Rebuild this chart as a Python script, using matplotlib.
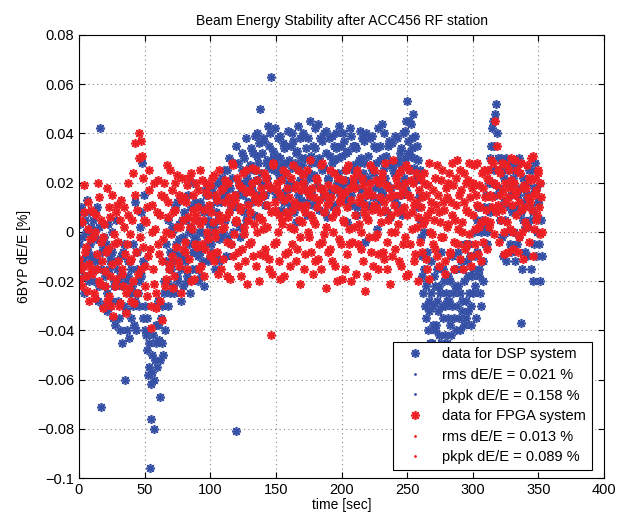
import numpy as np
import matplotlib
matplotlib.use('Agg')
import matplotlib.pyplot as plt
from matplotlib.ticker import FuncFormatter

plt.rcParams['font.family'] = ['Liberation Sans', 'DejaVu Sans']

# beam energy deviation, units of 1e-3 %
# *_a sampled on whole seconds, *_b half a second later
dsp_dE_a = [
    -5, 3, -12, 8, -18, 0, 13, -8, -20, 2,
    -10, 5, -15, -3, 10, -22, 42, -71, -6, -2,
    -18, -25, 3, -30, -12, -8, -35, -20, 5, -15,
    -28, -40, -10, -22, -5, -60, -32, -18, -43, -25,
    -15, -30, -38, 12, -8, -25, -20, 8, 28, -12,
    -30, -42, -48, -55, -96, -76, -57, -80, -52, -45,
    -38, -44, -67, -30, -50, -25, -12, -20, 5, -8,
    -15, 0, -22, 10, -5, -18, 3, -10, -28, -2,
    8, -12, -20, 15, -5, 2, -15, 20, -8, -3,
    5, -10, 12, -18, 0, 8, -5, 18, -12, 3,
    10, -8, 15, 2, -15, 20, 5, -3, 12, 22,
    0, 15, -10, 25, 8, 18, -5, 12, 28, 4,
    -81, 10, 20, -2, 25, 15, 30, 5, 22, 12,
    27, 34, 17, 7, 39, 21, 31, 14, 50, 24,
    19, 37, 11, 29, 43, 26, 63, 17, 33, 27,
    14, 31, 23, 39, 9, 27, 34, 16, 24, 41,
    29, 11, 26, 37, 19, 4, 33, 43, 21, 13,
    27, 39, 17, 34, 7, 24, 45, 31, 11, 23,
    34, 19, 44, 9, 27, 37, 14, 26, 41, 6,
    21, 31, 17, 39, 29, 11, 34, 24, 43, 19,
    31, 14, 37, 21, 4, 33, 26, 39, 11, 27,
    19, 34, 7, 29, 41, 17, 24, 37, -4, 21,
    31, 11, 27, 39, 14, 24, 34, 1, 21, 29,
    17, 44, 26, 9, 31, 19, 37, 6, 27, 14,
    24, 39, 11, 29, 19, 34, 7, 27, 41, 17,
    53, 37, 31, 44, 34, 26, 39, 21, 29, 14,
    5, -10, -25, -15, -35, -20, -40, -28, -12, -45,
    -30, -22, -38, -15, -42, -25, -8, -35, -20, -30,
    -45, -18, -28, -38, -10, -25, -35, -15, -30, -22,
    -40, -12, -28, -20, -5, -35, -18, -25, -10, -30,
    -15, 0, -22, -8, 10, -18, -30, 5, -12, 2,
    15, -5, 20, 8, 35, 42, 25, 48, 52, 30,
    18, 5, 25, -10, 12, 30, 0, 20, -5, 15,
    8, 22, -12, 10, 28, -2, 18, -37, 5, 12,
    -8, 20, 2, 15, -15, 25, 8, -5, 18, 0,
    12, -20, 5,
]

dsp_dE_b = [
    -15, 10, -2, -25, 5, -10, -18, 8, -5, -12,
    0, -20, 8, -12, -28, 2, -15, -8, -30, -22,
    -5, -32, -15, -10, -28, 0, -22, -38, -12, -20,
    -35, -18, -45, -8, -30, -20, -40, -12, -25, -35,
    -22, -5, -28, -40, -15, -30, 2, -18, -35, 15,
    -40, -35, -58, -45, -62, -50, -42, -60, -38, -55,
    -28, -52, -35, -45, -20, -40, -5, -30, -15, -25,
    2, -12, -25, -8, 12, -20, -3, -15, 5, -22,
    -10, 5, -18, 0, -25, 10, -8, -2, 12, -15,
    -20, 0, -8, 10, -12, -22, 15, -2, 5, -10,
    -5, 18, 0, -10, 8, 12, -12, 20, -2, 15,
    25, 5, 18, -2, 30, 10, 22, 0, 15, 35,
    15, 28, 2, 18, 32, 8, 20, 38, 12, 25,
    20, 12, 32, 25, 15, 40, 28, 36, 20, 32,
    38, 15, 28, 22, 35, 40, 18, 30, 25, 42,
    25, 38, 15, 30, 22, 36, 12, 35, 28, 20,
    18, 35, 40, 8, 28, 32, 15, 25, 38, 30,
    40, 20, 30, 12, 38, 22, 28, 15, 35, 42,
    12, 28, 30, 38, 18, 25, 40, 8, 32, 22,
    38, 15, 28, 10, 35, 40, 20, 30, 15, 35,
    18, 40, 25, 32, 12, 20, 42, 15, 35, 25,
    35, 10, 28, 22, 30, 38, 12, 28, 40, 15,
    22, 38, 10, 25, 35, 18, 28, 42, 12, 35,
    30, 15, 40, 22, 8, 35, 28, 18, 36, 25,
    12, 28, 38, 20, 32, 15, 40, 22, 30, 45,
    32, 45, 25, 38, 48, 30, 22, 35, 10, 25,
    -2, -18, 0, -30, -22, -8, -32, -45, -25, -38,
    -18, -40, -28, -32, -22, -45, -30, -15, -42, -25,
    -28, -35, -20, -42, -30, -15, -22, -40, -8, -35,
    -25, -32, -15, -38, -28, -12, -32, -5, -38, -18,
    -25, -10, -35, 5, -15, -25, 0, -20, 10, -5,
    0, 25, 10, 30, 20, 45, 35, 15, 40, 25,
    10, 30, -2, 22, 5, -12, 25, 10, 28, -8,
    20, 0, 25, -5, 15, 30, 8, -15, 22, 2,
    15, -10, 25, 5, 10, -20, 18, 28, -10, 12,
    -5, 20, -10,
]

fpga_dE_a = [
    -11, -19, 4, -14, 19, -6, -24, 1, -13, 9,
    -17, -2, -27, 7, -9, 14, -21, -4, -31, 3,
    -16, 18, -7, -26, 6, -13, -34, -1, -19, 11,
    -4, -29, 13, -17, 2, -9, -33, 7, -23, -1,
    -11, 24, -29, 36, 9, -17, 40, 37, 31, -6,
    -14, 4, -26, 17, -7, -39, 11, -21, 1, -31,
    21, -9, 7, -36, -3, 14, -19, 27, 6, -13,
    -1, 17, -23, 9, -6, 23, -14, 2, 13, -7,
    14, -4, 19, 6, -11, 24, 1, 9, -19, 7,
    -6, 17, 3, -14, 21, 9, -7, 16, -3, 11,
    19, -9, 4, 23, -2, 13, -17, 7, 17, 1,
    -11, 21, 6, -4, 14, -19, 11, 27, -1, 13,
    4, -14, 19, 9, -7, 24, -1, 16, -21, 11,
    17, -4, 26, 3, 13, -14, 21, 6, -9, 14,
    1, 24, -7, 11, 19, -11, -42, -17, 27, 9,
    -4, 17, 7, -19, 21, 3, 13, -9, 24, 6,
    14, -14, 9, 27, 1, 19, -7, 11, -21, 17,
    4, 23, -9, 11, 17, -2, 29, 7, -17, 14,
    3, 21, -11, 13, 27, -4, 17, -1, -23, 11,
    19, -7, 14, 6, 24, -14, 9, 17, -3, 13,
    -19, 21, 4, 16, -9, 27, 1, 13, -4, 19,
    7, -17, 24, 3, 14, -7, 19, 11, -24, 6,
    17, -2, 27, 9, -14, 11, 21, -1, -9, 14,
    4, 24, -11, 9, 19, -4, 14, -21, 7, 29,
    11, -7, 19, 3, 24, -14, 9, 17, -2, 27,
    7, -17, 14, 21, 1, 11, -9, 24, 6, 17,
    -4, 14, 3, 24, -11, 7, 19, -19, 9, -1,
    17, -7, 11, 27, -14, 4, 21, -2, 9, -17,
    14, 3, 24, -9, 7, 19, -4, 11, 29, 1,
    -11, 17, 4, 24, -7, 9, 21, -1, 14, -14,
    7, 27, 1, 11, -9, 19, 4, 24, -4, 14,
    9, -7, 21, 4, 29, 14, -1, 45, 19, 11,
    -4, 24, 9, 17, -9, 27, 4, 14, 1, 21,
    11, -7, 29, 7, 17, -2, 24, 9, -11, 19,
    4, 27, 14, -4, 21, 9, 31, 1, 17, 7,
    24, -1, 14,
]

fpga_dE_b = [
    5, -15, -22, 8, -8, -18, 12, -28, -3, -15,
    8, -25, 0, -15, 20, -20, 5, -12, -2, -22,
    -8, -28, 10, -18, -30, 15, -5, -22, 8, -12,
    -30, 5, -15, -22, 10, -25, -5, 20, -12, -28,
    5, -20, 15, -8, -25, 30, -2, -15, 22, 5,
    -22, 10, -10, 25, -30, 0, -15, 20, -25, 8,
    -5, -28, 15, -12, 20, -22, 0, 12, -15, 25,
    -10, 8, -18, 20, 2, -12, 15, -25, 22, 5,
    -8, 12, -15, 22, 2, -20, 15, 5, -5, 20,
    10, -15, 25, -5, 5, -18, 20, 0, 15, -10,
    8, 22, -12, 0, 15, -8, 25, 5, -15, 18,
    2, 12, -18, 20, 8, -5, 28, -10, 15, 5,
    22, -8, 10, -18, 18, 2, -12, 25, 5, -5,
    8, 20, -10, 15, 25, 0, 12, -20, 18, 5,
    15, -10, 22, 2, -15, 18, 8, 28, -5, 12,
    20, 0, -12, 15, 5, 25, -18, 8, 18, -8,
    2, 22, -5, 12, 18, -12, 25, 5, -2, 10,
    20, -15, 8, 25, 0, 15, -8, 18, 5, -12,
    22, 10, -5, 18, -15, 28, 8, 15, 2, -8,
    12, 25, -12, 0, 18, 8, -20, 22, 12, -5,
    15, 5, -15, 25, 10, -5, 18, -20, 22, 2,
    18, 25, -5, 12, 0, 22, -12, 8, 15, -18,
    5, 20, -8, 15, 25, -2, 10, -15, 20, 8,
    22, -8, 12, 28, -15, 5, 18, 0, -10, 15,
    0, 22, 8, -12, 15, 25, -5, 10, 20, -18,
    15, 25, -5, 8, 20, -12, 12, 2, -20, 22,
    10, -8, 20, 5, 15, -15, 28, 0, 12, -5,
    5, 22, -10, 15, 8, -2, 25, 12, -12, 18,
    2, 20, -8, 12, 28, -15, 5, 22, -5, 15,
    25, 0, -15, 12, 20, -5, 8, 28, -10, 18,
    20, -5, 15, 28, 2, 10, -12, 18, 25, 5,
    22, 25, 2, 15, 10, 28, 20, 8, 35, 25,
    15, 5, 28, 0, 20, 12, -8, 25, 18, 30,
    0, 20, 15, 25, -8, 12, 28, 0, 18, 10,
    18, 2, 22, 12, 30, -10, 15, 22, 5, 25,
    10, 20, 0,
]

dsp_label = ['data for DSP system', 'rms dE/E = 0.021 %', 'pkpk dE/E = 0.158 %']
fpga_label = ['data for FPGA system', 'rms dE/E = 0.013 %', 'pkpk dE/E = 0.089 %']

blue = '#3550a5'
red = '#ec2024'
star = (8, 2, 0)

fig = plt.figure(figsize=(6.17, 5.14), dpi=100)
ax = fig.add_axes([0.128, 0.070, 0.851, 0.862])

t_dsp = np.concatenate([np.arange(len(dsp_dE_a)), np.arange(len(dsp_dE_b)) + 0.5])
y_dsp = np.array(dsp_dE_a + dsp_dE_b) * 1e-3
t_fpga = np.concatenate([np.arange(len(fpga_dE_a)), np.arange(len(fpga_dE_b)) + 0.5])
y_fpga = np.array(fpga_dE_a + fpga_dE_b) * 1e-3

ax.plot(t_dsp, y_dsp, ls='none', marker=star, ms=6.5, mew=1.2,
        color=blue, label=dsp_label[0])
ax.plot([], [], ls='none', marker='.', ms=2, color=blue, label=dsp_label[1])
ax.plot([], [], ls='none', marker='.', ms=2, color=blue, label=dsp_label[2])
ax.plot(t_fpga, y_fpga, ls='none', marker=star, ms=6.5, mew=1.2,
        color=red, label=fpga_label[0])
ax.plot([], [], ls='none', marker='.', ms=2, color=red, label=fpga_label[1])
ax.plot([], [], ls='none', marker='.', ms=2, color=red, label=fpga_label[2])

ax.set_xlim(0, 400)
ax.set_ylim(-0.1, 0.08)
ax.set_xticks(np.arange(0, 401, 50))
ax.set_yticks(np.arange(-0.1, 0.081, 0.02))
ax.yaxis.set_major_formatter(FuncFormatter(lambda v, p: ('%g' % round(v, 3)).replace('-', '\u2212')))
ax.tick_params(direction='in', top=True, right=True, labelsize=10.5, length=4)
ax.grid(True, ls=(0, (1, 3)), color='#888888', lw=0.8)
for s in ax.spines.values():
    s.set_linewidth(0.8)

ax.set_title('Beam Energy Stability after ACC456 RF station', fontsize=10, pad=7)
ax.set_xlabel('time [sec]', fontsize=10, labelpad=1)
ax.set_ylabel('6BYP dE/E [%]', fontsize=10, labelpad=4)

leg = ax.legend(loc='lower right', bbox_to_anchor=(0.977, 0.018), fontsize=10.5,
                fancybox=False, framealpha=1, edgecolor='black', borderpad=0.4,
                labelspacing=0.45, handlelength=2.2, borderaxespad=0)
leg.get_frame().set_linewidth(0.8)

fig.savefig('out.png', dpi=100)
